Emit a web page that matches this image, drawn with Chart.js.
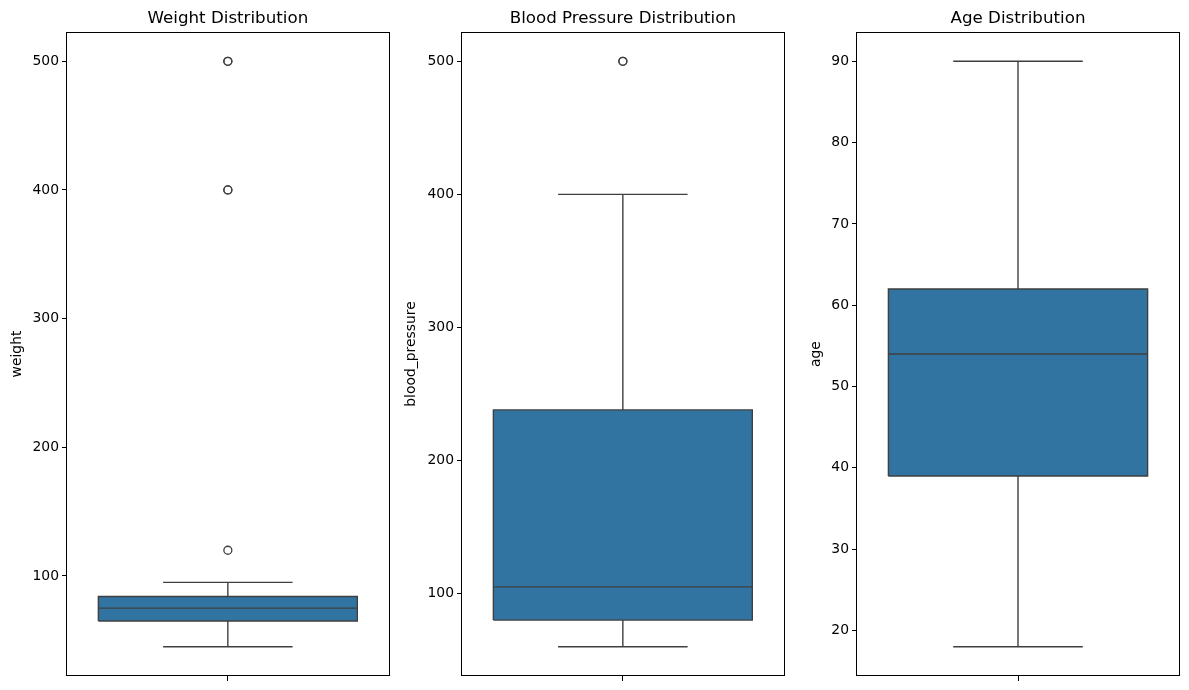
<!DOCTYPE html>
<html>
<head>
<meta charset="utf-8">
<script src="https://cdn.jsdelivr.net/npm/chart.js@4/dist/chart.umd.min.js"></script>
<style>
  body { margin: 0; background: #fff; width: 1189px; height: 690px; position: relative; overflow: hidden; }
  canvas { position: absolute; top: 0; }
</style>
</head>
<body>
<canvas id="c0" width="395" height="690" style="left:0px"></canvas>
<canvas id="c1" width="395" height="690" style="left:395px"></canvas>
<canvas id="c2" width="395" height="690" style="left:790px"></canvas>
<script>
// Data: [lower whisker, q1, median, q3, upper whisker]
const titles = ['Weight Distribution', 'Blood Pressure Distribution', 'Age Distribution'];
const axisLabels = ['weight', 'blood_pressure', 'age'];

const weightStats = [45, 65, 75, 84, 95];
const weightOutliers = [120, 400, 400, 500, 500];
const weightTicks = [100, 200, 300, 400, 500];

const bpStats = [60, 80, 105, 238, 400];
const bpOutliers = [500, 500];
const bpTicks = [100, 200, 300, 400, 500];

const ageStats = [18, 39, 54, 62, 90];
const ageOutliers = [];
const ageTicks = [20, 30, 40, 50, 60, 70, 80, 90];

const BOX_COLOR = '#3274a1';
const LINE_COLOR = '#3f3f3f';
const FONT = 'DejaVu Sans';

// Frame round the plot area (all four spines)
const framePlugin = {
    id: 'frame',
    afterDraw(chart) {
        const { ctx, chartArea: a } = chart;
        ctx.save();
        ctx.strokeStyle = '#000';
        ctx.lineWidth = 1;
        ctx.strokeRect(Math.round(a.left) + 0.5, Math.round(a.top) + 0.5,
            Math.round(a.right - a.left) - 1, Math.round(a.bottom - a.top) - 1);
        ctx.restore();
    }
};

function lineSet(points) {
    return {
        data: points,
        order: 0,
        showLine: true,
        borderColor: LINE_COLOR,
        borderWidth: 1.4,
        pointRadius: 0,
        fill: false
    };
}

function makeBoxChart(id, title, label, stats, outliers, ticks, titlePad) {
    const [lo, q1, med, q3, hi] = stats;
    const half = 0.4, cap = 0.2;
    const all = [lo, hi, ...outliers];
    const dMin = Math.min(...all), dMax = Math.max(...all);
    const margin = (dMax - dMin) * 0.05;

    new Chart(document.getElementById(id), {
        type: 'scatter',
        data: {
            datasets: [
                {   // box fill, drawn behind everything else
                    data: [{ x: -half, y: q3 }, { x: half, y: q3 }],
                    order: 1,
                    showLine: true,
                    borderWidth: 0,
                    borderColor: 'rgba(0,0,0,0)',
                    pointRadius: 0,
                    backgroundColor: BOX_COLOR,
                    fill: { value: q1 }
                },
                lineSet([{ x: -half, y: q1 }, { x: half, y: q1 }, { x: half, y: q3 },
                         { x: -half, y: q3 }, { x: -half, y: q1 }]),
                lineSet([{ x: -half, y: med }, { x: half, y: med }]),
                lineSet([{ x: 0, y: q3 }, { x: 0, y: hi }]),
                lineSet([{ x: -cap, y: hi }, { x: cap, y: hi }]),
                lineSet([{ x: 0, y: q1 }, { x: 0, y: lo }]),
                lineSet([{ x: -cap, y: lo }, { x: cap, y: lo }]),
                {   // outliers
                    data: outliers.map(v => ({ x: 0, y: v })),
                    order: 0,
                    showLine: false,
                    pointStyle: 'circle',
                    pointRadius: 4,
                    pointBackgroundColor: 'rgba(0,0,0,0)',
                    pointBorderColor: LINE_COLOR,
                    pointBorderWidth: 1.3
                }
            ]
        },
        options: {
            responsive: false,
            animation: false,
            devicePixelRatio: 1,
            layout: { padding: { left: 0, right: 5, top: 0, bottom: 0 } },
            plugins: {
                legend: { display: false },
                tooltip: { enabled: false },
                title: {
                    display: true,
                    fullSize: false,
                    text: title,
                    color: '#000',
                    font: { family: FONT, size: 16.7, weight: 'normal' },
                    padding: { top: 9, bottom: 3 }
                }
            },
            scales: {
                x: {
                    type: 'linear',
                    min: -0.5,
                    max: 0.5,
                    afterBuildTicks: ax => { ax.ticks = [{ value: 0 }]; },
                    afterFit: ax => { ax.height = 14; },
                    grid: { drawOnChartArea: false, drawTicks: true, tickLength: 5, color: '#000' },
                    border: { display: false },
                    ticks: { display: false }
                },
                y: {
                    min: dMin - margin,
                    max: dMax + margin,
                    afterBuildTicks: ax => { ax.ticks = ticks.map(v => ({ value: v })); },
                    afterFit: ax => { ax.width = 66; },
                    grid: { drawOnChartArea: false, drawTicks: true, tickLength: 4, color: '#000' },
                    border: { display: false },
                    ticks: { color: '#000', font: { family: FONT, size: 13.9 }, padding: 3 },
                    title: {
                        display: true,
                        text: label,
                        color: '#000',
                        font: { family: FONT, size: 13.9 },
                        padding: { top: titlePad, bottom: 0 }
                    }
                }
            }
        },
        plugins: [framePlugin]
    });
}

makeBoxChart('c0', titles[0], axisLabels[0], weightStats, weightOutliers, weightTicks, 8.6);
makeBoxChart('c1', titles[1], axisLabels[1], bpStats, bpOutliers, bpTicks, 7.6);
makeBoxChart('c2', titles[2], axisLabels[2], ageStats, ageOutliers, ageTicks, 17.6);
</script>
</body>
</html>
